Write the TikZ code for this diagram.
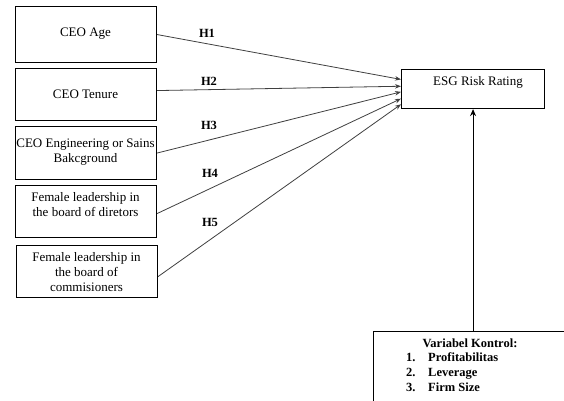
\documentclass[tikz,border=0pt]{standalone}
\usepackage{fontspec}
\setmainfont{Liberation Serif}
\usetikzlibrary{calc,arrows.meta}
\begin{document}
\begin{tikzpicture}[x=1pt,y=-1pt,
  box/.style={draw=black,line width=1.1pt,rectangle,inner sep=0pt},
  txt/.style={font=\fontsize{13}{15}\selectfont,align=center,inner sep=0pt},
  hyp/.style={font=\fontsize{12.5}{15}\selectfont\bfseries,inner sep=0pt},
  link/.style={draw=black!75,line width=0.8pt,-{Stealth[length=6pt,width=4.5pt]}},
  ctrltxt/.style={font=\fontsize{12.5}{15}\selectfont\bfseries,inner sep=0pt,anchor=base west}]
\clip (0,0) rectangle (564,400);
\fill[white] (0,0) rectangle (564,400);
% left boxes
\node[box,minimum width=141pt,minimum height=56pt,anchor=north west] (b1) at (15,6) {};
\node[box,minimum width=141pt,minimum height=52pt,anchor=north west] (b2) at (15,68) {};
\node[box,minimum width=141pt,minimum height=53pt,anchor=north west] (b3) at (15,126) {};
\node[box,minimum width=141pt,minimum height=52pt,anchor=north west] (b4) at (15,185) {};
\node[box,minimum width=141pt,minimum height=52pt,anchor=north west] (b5) at (16,245) {};
\node[txt] (t1) at (85.5,34) {CEO Age};
\node[txt] (t2) at (85.5,94) {CEO Tenure};
\node[txt] (t3) at (85.5,152.5) {CEO Engineering or Sains\\Bakcground};
\node[txt] (t4) at (85.5,204.5) {Female leadership in\\the board of diretors};
\node[txt] (t5) at (86.5,272) {Female leadership in\\the board of\\commisioners};
% ESG box
\node[box,minimum width=143pt,minimum height=39pt,anchor=north west] (esg) at (401,69) {};
\node[txt] (esgt) at (478,82) {ESG Risk Rating};
% control box
\node[box,minimum width=220pt,minimum height=100pt,anchor=north west] (ctrl) at (373,331) {};
\node[font=\fontsize{12.5}{15}\selectfont\bfseries,inner sep=0pt] (ct) at (470,343) {Variabel Kontrol:};
\node[ctrltxt] (c1n) at (406,361) {1.};
\node[ctrltxt] (c1) at (428,361) {Profitabilitas};
\node[ctrltxt] (c2n) at (406,376) {2.};
\node[ctrltxt] (c2) at (428,376) {Leverage};
\node[ctrltxt] (c3n) at (406,391) {3.};
\node[ctrltxt] (c3) at (428,391) {Firm Size};
% arrows
\draw[link] (b1.east) -- ($(esg.north west)!0.26!(esg.south west)$);
\draw[link] ($(b2.east)+(0,-4)$) -- ($(esg.north west)!0.43!(esg.south west)$);
\draw[link] (b3.east) -- ($(esg.north west)!0.57!(esg.south west)$);
\draw[link] ($(b4.east)+(0,2)$) -- ($(esg.north west)!0.74!(esg.south west)$);
\draw[link] ($(b5.east)+(0,5)$) -- ($(esg.north west)!0.88!(esg.south west)$);
\draw[draw=black,line width=1.1pt,-{Stealth[length=7pt,width=6pt]}] (ctrl.north west -| esg.south) -- (esg.south);
% labels
\node[hyp] (h1) at (207,33) {H1};
\node[hyp] (h2) at (209,81) {H2};
\node[hyp] (h3) at (209,125) {H3};
\node[hyp] (h4) at (210,173) {H4};
\node[hyp] (h5) at (210,222) {H5};
\end{tikzpicture}
\end{document}
